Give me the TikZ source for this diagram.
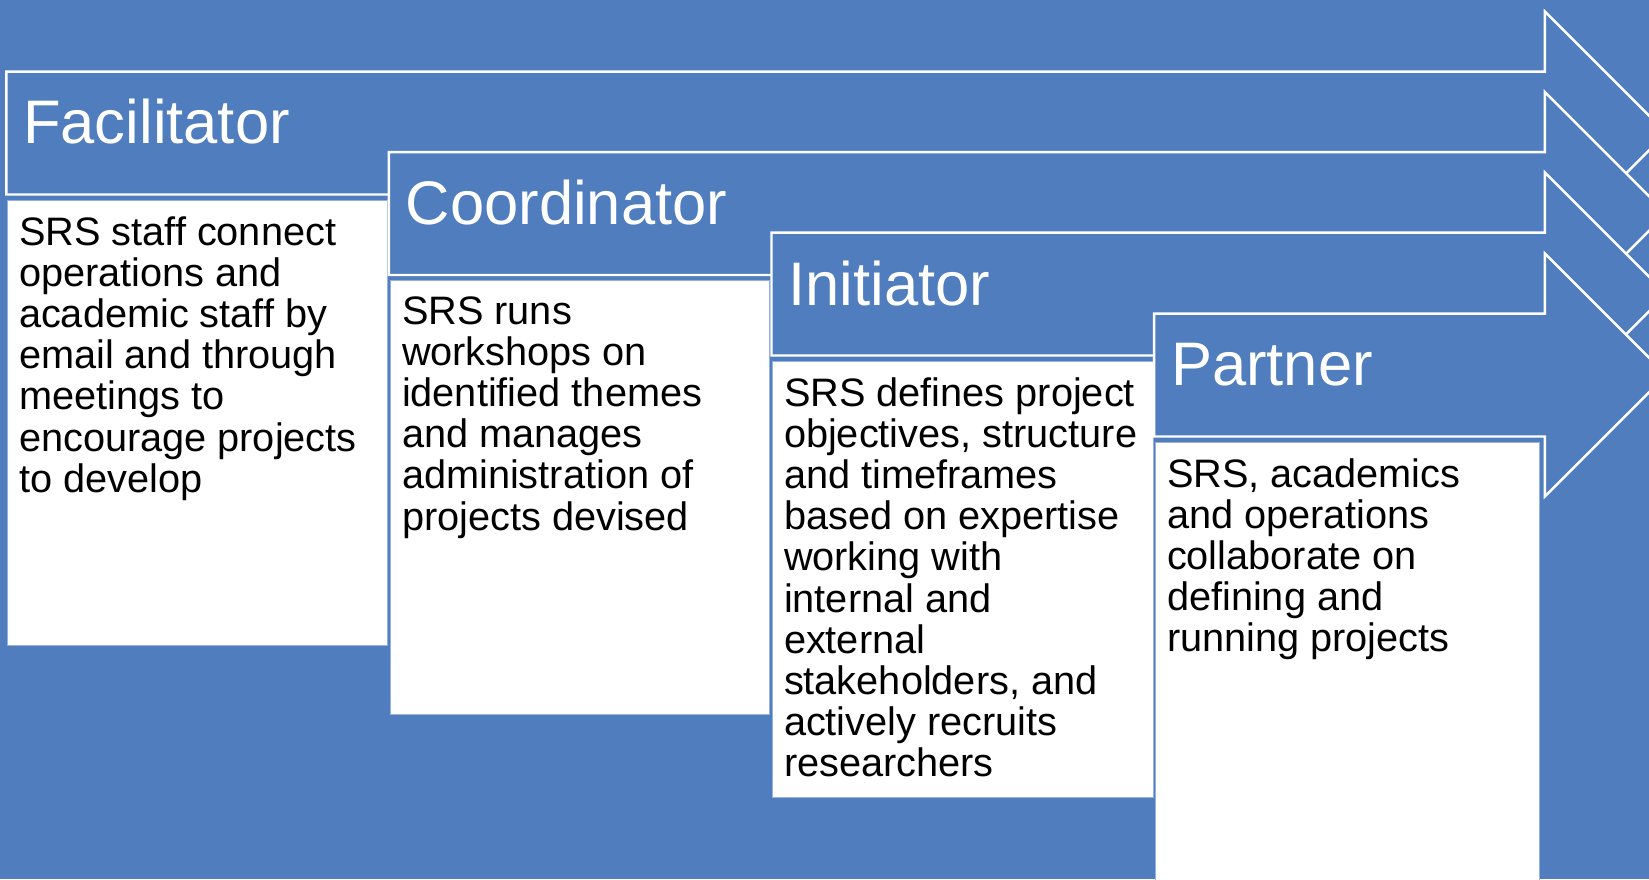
\documentclass[tikz,border=0pt]{standalone}
\usepackage{fontspec}
\setmainfont{Liberation Sans}
\usepackage{xcolor}
\usepackage{tikz}
\usetikzlibrary{shapes.arrows, positioning}
\definecolor{slideblue}{RGB}{79, 125, 190}
\definecolor{boxline}{RGB}{150, 178, 222}

\begin{document}
\begin{tikzpicture}[
    stagearrow/.style={single arrow, draw=white, line width=0.7pt, fill=slideblue, anchor=west,
        inner xsep=0pt, inner ysep=0.6025cm, single arrow head extend=0.6cm,
        single arrow tip angle=90, single arrow head indent=0pt},
    stagetitle/.style={anchor=base west, inner sep=0pt, text=white, font=\fontsize{17.5}{21}\selectfont},
    descbox/.style={rectangle, draw=boxline, line width=0.4pt, fill=white, anchor=north west, inner sep=0pt},
    desctext/.style={inner sep=0pt, align=left, text=black, font=\fontsize{11.3}{11.7}\selectfont}
]
    % Slide background
    \useasboundingbox (0, 0) rectangle (16.49, 8.79);
    \clip (0, 0) rectangle (16.49, 8.79);
    \fill[slideblue] (0, 0) rectangle (16.49, 8.79);

    % Facilitator
    \node[stagearrow, minimum height=16.6cm] (facil) at (0.05, 7.46) {};
    \node[stagetitle] (faciltitle) at (0.225, 7.353) {Facilitator};
    \node[descbox, minimum width=3.8cm, minimum height=4.45cm] (facilbox) at (0.07, 6.79) {};
    \node[desctext, below right=0.16cm and 0.113cm of facilbox.north west] (faciltext)
        {SRS staff connect\\operations and\\academic staff by\\email and through\\meetings to\\encourage projects\\to develop};

    % Coordinator
    \node[stagearrow, minimum height=12.774cm] (coord) at (3.876, 6.655) {};
    \node[stagetitle] (coordtitle) at (4.051, 6.547) {Coordinator};
    \node[descbox, minimum width=3.79cm, minimum height=4.34cm] (coordbox) at (3.9, 5.99) {};
    \node[desctext, below right=0.16cm and 0.113cm of coordbox.north west] (coordtext)
        {SRS runs\\workshops on\\identified themes\\and manages\\administration of\\projects devised};

    % Initiator
    \node[stagearrow, minimum height=8.948cm] (init) at (7.702, 5.85) {};
    \node[stagetitle] (inittitle) at (7.877, 5.74) {Initiator};
    \node[descbox, minimum width=3.81cm, minimum height=4.36cm] (initbox) at (7.72, 5.18) {};
    \node[desctext, below right=0.16cm and 0.113cm of initbox.north west] (inittext)
        {SRS defines project\\objectives, structure\\and timeframes\\based on expertise\\working with\\internal and\\external\\stakeholders, and\\actively recruits\\researchers};

    % Partner
    \node[stagearrow, minimum height=5.122cm] (partner) at (11.528, 5.04) {};
    \node[stagetitle] (partnertitle) at (11.703, 4.935) {Partner};
    \node[descbox, minimum width=3.84cm, minimum height=4.5cm] (partnerbox) at (11.55, 4.37) {};
    \node[desctext, below right=0.16cm and 0.113cm of partnerbox.north west] (partnertext)
        {SRS, academics\\and operations\\collaborate on\\defining and\\running projects};

\end{tikzpicture}
\end{document}
